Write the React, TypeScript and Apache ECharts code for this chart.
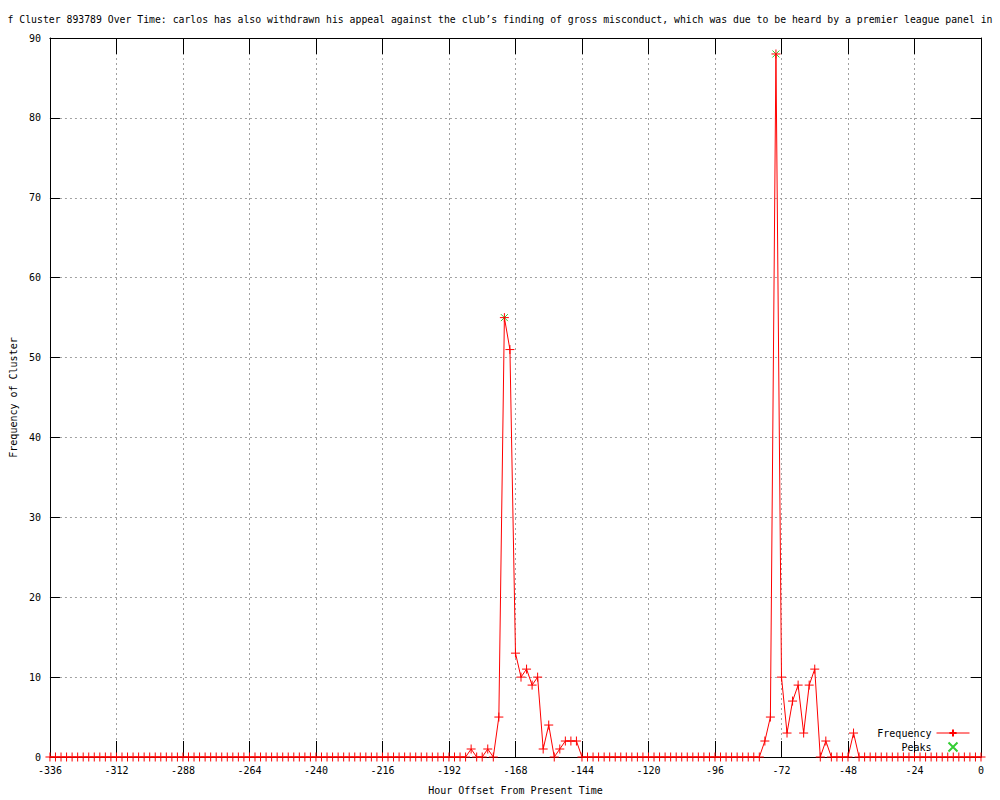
import React, { useEffect, useRef } from "react";
import * as echarts from "echarts";

const FONT = "'DejaVu Sans Mono', monospace";

const TITLE =
  "f Cluster 893789 Over Time: carlos has also withdrawn his appeal against the club’s finding of gross misconduct, which was due to be heard by a premier league panel in";
const X_NAME = "Hour Offset From Present Time";
const Y_NAME = "Frequency of Cluster";

// sampling grid: one reading every 2 hours, from -336 to 0
const HOUR_START = -336;
const HOUR_STEP = 2;

// frequency per 2-hour step, rows of 24 hours (-336 ... 0)
const FREQUENCY = [
  0, 0, 0, 0, 0, 0, 0, 0, 0, 0, 0, 0, // -336 .. -314
  0, 0, 0, 0, 0, 0, 0, 0, 0, 0, 0, 0, // -312 .. -290
  0, 0, 0, 0, 0, 0, 0, 0, 0, 0, 0, 0, // -288 .. -266
  0, 0, 0, 0, 0, 0, 0, 0, 0, 0, 0, 0, // -264 .. -242
  0, 0, 0, 0, 0, 0, 0, 0, 0, 0, 0, 0, // -240 .. -218
  0, 0, 0, 0, 0, 0, 0, 0, 0, 0, 0, 0, // -216 .. -194
  0, 0, 0, 0, 1, 0, 0, 1, 0, 5, 55, 51, // -192 .. -170
  13, 10, 11, 9, 10, 1, 4, 0, 1, 2, 2, 2, // -168 .. -146
  0, 0, 0, 0, 0, 0, 0, 0, 0, 0, 0, 0, // -144 .. -122
  0, 0, 0, 0, 0, 0, 0, 0, 0, 0, 0, 0, // -120 .. -98
  0, 0, 0, 0, 0, 0, 0, 0, 0, 2, 5, 88, // -96 .. -74
  10, 3, 7, 9, 3, 9, 11, 0, 2, 0, 0, 0, // -72 .. -50
  0, 3, 0, 0, 0, 0, 0, 0, 0, 0, 0, 0, // -48 .. -26
  0, 0, 0, 0, 0, 0, 0, 0, 0, 0, 0, 0, // -24 .. -2
  0, // 0
];

const PEAK_HOURS = [-172, -74];
const PEAK_VALUES = [55, 88];

const X_MIN = -336;
const X_MAX = 0;
const X_INTERVAL = 24;
const Y_MIN = 0;
const Y_MAX = 90;
const Y_INTERVAL = 10;

const PLUS = "path://M5,0L5,10M0,5L10,5";
const CROSS = "path://M0,0L10,10M10,0L0,10";

export default function App() {
  const ref = useRef<HTMLDivElement>(null);

  useEffect(() => {
    if (!ref.current) return;
    const chart = echarts.init(ref.current, undefined, { renderer: "svg" });

    const freqData = FREQUENCY.map((v, i) => [HOUR_START + HOUR_STEP * i, v]);
    const peakData = PEAK_HOURS.map((h, i) => [h, PEAK_VALUES[i]]);

    const labelStyle = { fontFamily: FONT, fontSize: 10, color: "#000" };

    const option: any = {
      animation: false,
      backgroundColor: "#ffffff",
      title: {
        text: TITLE,
        left: "center",
        top: 9,
        textStyle: { fontFamily: FONT, fontSize: 9.8, fontWeight: "normal", color: "#000" },
      },
      grid: { left: 49, right: 19, top: 38, bottom: 40, containLabel: false },
      legend: {
        orient: "vertical",
        right: 30,
        top: 727,
        align: "right",
        itemWidth: 33,
        itemHeight: 9,
        itemGap: 1,
        padding: 0,
        lineStyle: { width: 1 },
        textStyle: { fontFamily: FONT, fontSize: 10, color: "#000", lineHeight: 12 },
        data: ["Frequency", "Peaks"],
      },
      xAxis: [
        {
          type: "value",
          position: "bottom",
          min: X_MIN,
          max: X_MAX,
          interval: X_INTERVAL,
          name: X_NAME,
          nameLocation: "middle",
          nameGap: 28,
          nameTextStyle: labelStyle,
          axisLine: { show: true, onZero: false, lineStyle: { color: "#000", width: 1 } },
          axisTick: { show: true, inside: true, length: 16, lineStyle: { color: "#000", width: 1 } },
          axisLabel: { ...labelStyle, margin: 8 },
          splitLine: { show: true, lineStyle: { color: "#a0a0a0", width: 1, type: [2, 3] } },
        },
        {
          type: "value",
          position: "top",
          min: X_MIN,
          max: X_MAX,
          interval: X_INTERVAL,
          axisLine: { show: true, onZero: false, lineStyle: { color: "#000", width: 1 } },
          axisTick: { show: true, inside: true, length: 16, lineStyle: { color: "#000", width: 1 } },
          axisLabel: { show: false },
          splitLine: { show: false },
        },
      ],
      yAxis: [
        {
          type: "value",
          position: "left",
          min: Y_MIN,
          max: Y_MAX,
          interval: Y_INTERVAL,
          name: Y_NAME,
          nameLocation: "middle",
          nameGap: 30,
          nameTextStyle: labelStyle,
          axisLine: { show: true, onZero: false, lineStyle: { color: "#000", width: 1 } },
          axisTick: { show: true, inside: true, length: 10, lineStyle: { color: "#000", width: 1 } },
          axisLabel: { ...labelStyle, margin: 9 },
          splitLine: { show: true, lineStyle: { color: "#a0a0a0", width: 1, type: [2, 3] } },
        },
        {
          type: "value",
          position: "right",
          min: Y_MIN,
          max: Y_MAX,
          interval: Y_INTERVAL,
          axisLine: { show: true, onZero: false, lineStyle: { color: "#000", width: 1 } },
          axisTick: { show: true, inside: true, length: 10, lineStyle: { color: "#000", width: 1 } },
          axisLabel: { show: false },
          splitLine: { show: false },
        },
      ],
      series: [
        {
          type: "line",
          name: "Frequency",
          xAxisIndex: 0,
          yAxisIndex: 0,
          data: freqData,
          symbol: PLUS,
          symbolSize: 9,
          showAllSymbol: true,
          clip: false,
          lineStyle: { color: "#ff0000", width: 1 },
          itemStyle: { color: "#ff0000", borderColor: "#ff0000", borderWidth: 1 },
          emphasis: { disabled: true },
          z: 3,
        },
        {
          type: "scatter",
          name: "Peaks",
          xAxisIndex: 0,
          yAxisIndex: 0,
          data: peakData,
          symbol: CROSS,
          symbolSize: 7,
          itemStyle: { color: "none", borderColor: "#00c000", borderWidth: 1 },
          emphasis: { disabled: true },
          z: 2,
        },
      ],
    };

    chart.setOption(option);
    return () => chart.dispose();
  }, []);

  return (
    <div
      ref={ref}
      style={{ position: "absolute", left: 0, top: 0, width: 1000, height: 800, background: "#fff" }}
    />
  );
}
